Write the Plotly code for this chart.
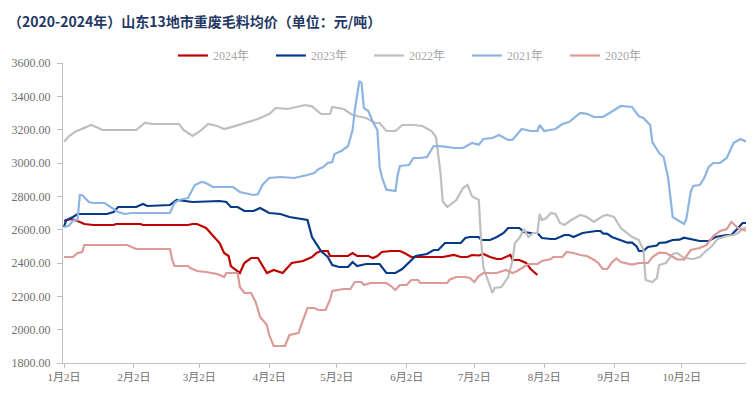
import pandas as pd
import plotly.graph_objects as go

# (day offset from Jan 2, price in 元/吨)
s2024 = [(0,2652),(3,2664),(6,2652),(9,2634),(13,2628),(22,2628),(23,2634),(34,2634),(35,2628),(55,2628),
         (57,2634),(59,2634),(63,2610),(66,2568),(69,2520),(71,2460),(73,2442),(74,2382),(76,2358),(78,2340),
         (80,2400),(83,2430),(86,2430),(88,2388),(90,2340),(93,2358),(97,2340),(101,2400),(106,2412),(110,2436),
         (112,2460),(114,2472),(117,2472),(118,2442),(126,2442),(128,2460),(130,2442),(135,2442),(137,2430),
         (139,2442),(141,2466),(145,2472),(149,2472),(151,2460),(154,2436),(164,2436),(168,2436),(173,2448),
         (176,2436),(179,2436),(181,2448),(184,2445),(186,2454),(189,2436),(192,2424),(194,2424),(198,2448),
         (199,2418),(202,2418),(205,2400),(207,2364),(210,2328)]

s2023 = [(0,2616),(1,2658),(4,2676),(6,2694),(19,2694),(22,2706),(24,2736),(32,2736),(35,2754),(37,2742),
         (47,2748),(50,2778),(57,2766),(63,2770),(69,2772),(72,2766),(74,2736),(77,2736),(80,2712),(84,2712),
         (87,2730),(91,2700),(96,2694),(100,2676),(106,2664),(108,2658),(110,2556),(114,2472),(117,2436),
         (119,2388),(122,2376),(126,2376),(128,2406),(130,2382),(134,2394),(140,2394),(143,2340),(147,2340),
         (150,2364),(153,2406),(156,2442),(161,2454),(164,2478),(166,2478),(169,2520),(176,2520),(178,2550),
         (180,2556),(184,2556),(185,2538),(189,2538),(192,2556),(195,2580),(197,2610),(202,2610),(204,2586),
         (207,2580),(210,2580),(212,2550),(216,2544),(218,2544),(222,2568),(224,2568),(226,2556),(228,2568),
         (230,2580),(236,2592),(238,2592),(239,2578),(241,2575),(243,2556),(247,2535),(250,2522),(252,2522),
         (254,2500),(255,2472),(257,2472),(259,2496),(261,2502),(263,2505),(264,2520),(267,2524),(270,2538),
         (273,2540),(275,2552),(278,2544),(282,2532),(286,2532),(289,2556),(294,2568),(296,2568),(298,2595),
         (301,2640),(303,2640)]

s2022 = [(0,3128),(2,3158),(5,3188),(8,3204),(12,3228),(15,3212),(17,3198),(32,3198),(36,3242),(39,3234),
         (51,3234),(53,3198),(57,3162),(60,3188),(64,3234),(68,3222),(71,3204),(75,3218),(79,3234),(86,3264),
         (91,3294),(94,3330),(99,3324),(105,3342),(107,3348),(110,3340),(114,3294),(118,3294),(119,3336),
         (124,3324),(128,3288),(134,3270),(138,3240),(140,3240),(143,3192),(147,3192),(150,3228),(155,3228),
         (159,3222),(163,3192),(165,3156),(167,2940),(168,2770),(170,2736),(174,2778),(177,2850),(179,2868),
         (181,2800),(184,2778),(185,2538),(186,2376),(190,2220),(191,2250),(194,2256),(197,2316),(199,2418),
         (200,2520),(202,2550),(204,2604),(205,2580),(206,2556),(208,2580),(210,2580),(211,2694),(212,2658),
         (214,2670),(216,2700),(218,2694),(220,2640),(222,2628),(225,2658),(229,2688),(232,2676),(235,2646),
         (239,2682),(241,2688),(244,2676),(247,2610),(250,2580),(252,2556),(255,2538),(257,2478),(258,2298),
         (261,2286),(263,2310),(264,2388),(267,2400),(270,2454),(272,2460),(275,2430),(279,2424),(282,2436),
         (285,2475),(287,2496),(290,2545),(294,2562),(297,2568),(299,2580),(301,2605),(303,2614)]

s2021 = [(0,2616),(2,2622),(4,2655),(6,2658),(7,2808),(8,2808),(11,2766),(13,2760),(18,2760),(20,2742),
         (24,2706),(27,2694),(30,2700),(47,2700),(49,2760),(51,2778),(55,2790),(58,2868),(61,2886),(63,2880),
         (66,2856),(75,2856),(78,2826),(84,2808),(86,2812),(88,2868),(91,2910),(96,2916),(102,2910),(108,2928),
         (111,2940),(113,2964),(115,2976),(117,3000),(119,3006),(120,3054),(123,3072),(126,3102),(128,3198),
         (129,3318),(130,3420),(131,3492),(132,3480),(133,3330),(135,3312),(137,3246),(139,3198),(140,2976),
         (141,2916),(143,2840),(147,2832),(148,2928),(149,2982),(153,2988),(155,3030),(158,3030),(161,3036),
         (164,3102),(168,3100),(173,3090),(177,3090),(181,3120),(184,3110),(186,3144),(190,3150),(193,3168),
         (197,3138),(199,3140),(203,3204),(207,3192),(210,3192),(211,3228),(213,3192),(218,3204),(221,3234),
         (224,3246),(229,3300),(232,3295),(235,3276),(239,3276),(242,3300),(244,3318),(247,3342),(252,3336),
         (255,3280),(257,3270),(260,3228),(261,3126),(264,3060),(266,3036),(268,2910),(270,2676),(272,2658),
         (275,2634),(276,2660),(278,2826),(279,2862),(282,2868),(284,2910),(286,2976),(288,3000),(291,3000),
         (294,3030),(297,3120),(300,3144),(303,3126)]

s2020 = [(0,2436),(4,2436),(6,2460),(8,2466),(9,2508),(28,2508),(30,2496),(32,2484),(47,2484),(48,2418),
         (49,2382),(55,2382),(56,2370),(59,2352),(63,2346),(68,2334),(71,2316),(72,2340),(77,2340),(78,2256),
         (80,2220),(83,2220),(85,2166),(87,2076),(90,2028),(91,1968),(93,1902),(98,1902),(100,1968),(104,1980),
         (106,2058),(108,2130),(111,2130),(113,2118),(116,2118),(118,2180),(119,2232),(124,2244),(127,2244),
         (129,2286),(132,2286),(133,2268),(136,2280),(143,2280),(145,2262),(147,2238),(149,2268),(152,2268),
         (154,2298),(157,2298),(158,2280),(170,2280),(171,2300),(174,2316),(178,2316),(180,2310),(182,2286),
         (184,2322),(186,2340),(192,2340),(196,2358),(199,2340),(201,2352),(204,2376),(206,2394),(210,2394),
         (212,2412),(216,2424),(217,2436),(221,2436),(223,2466),(226,2460),(229,2448),(232,2442),(235,2420),
         (237,2400),(239,2364),(241,2364),(243,2403),(245,2427),(247,2406),(250,2396),(252,2390),(255,2400),
         (259,2400),(261,2436),(264,2462),(267,2460),(270,2440),(272,2422),(275,2420),(278,2478),(282,2490),
         (285,2508),(288,2562),(291,2592),(294,2604),(296,2646),(298,2622),(299,2610),(303,2592)]

series_names = ["2024年", "2023年", "2022年", "2021年", "2020年"]
series_data = [s2024, s2023, s2022, s2021, s2020]
series_colors = ["#C00000", "#073B8A", "#BFBFBF", "#8DB4E2", "#DC9A98"]

tick_dates = ["2024-01-02", "2024-02-02", "2024-03-02", "2024-04-02", "2024-05-02",
              "2024-06-02", "2024-07-02", "2024-08-02", "2024-09-02", "2024-10-02"]
tick_labels = ["1月2日", "2月2日", "3月2日", "4月2日", "5月2日",
               "6月2日", "7月2日", "8月2日", "9月2日", "10月2日"]

base = pd.Timestamp("2024-01-02")

fig = go.Figure()
for name, data, color in zip(series_names, series_data, series_colors):
    days = [d for d, _ in data]
    vals = [v for _, v in data]
    xs = base + pd.to_timedelta(days, unit="D")
    fig.add_trace(go.Scatter(x=xs, y=vals, mode="lines", name=name,
                             line=dict(color=color, width=2.2)))

x0 = (base + pd.Timedelta(hours=-11)).strftime("%Y-%m-%d %H:%M:%S")
x1 = (base + pd.Timedelta(days=304.3)).strftime("%Y-%m-%d %H:%M:%S")

serif = "Liberation Serif, Noto Sans CJK SC, serif"
# the page body has an 8px default margin, so the figure is 8px smaller
fig.update_layout(
    width=746, height=385,
    margin=dict(l=55, r=4, t=55, b=30, autoexpand=False),
    paper_bgcolor="white", plot_bgcolor="white",
    title=dict(text="<b>（2020-2024年）山东13地市重废毛料均价（单位：元/吨）</b>",
               font=dict(family="Noto Sans CJK SC", size=14, color="#1F3864"),
               x=0, xanchor="left", xref="container",
               y=0.9636, yanchor="middle", yref="container", pad=dict(l=0)),
    legend=dict(orientation="h", x=0.160, xanchor="left", y=1.025, yanchor="middle",
                font=dict(family=serif, size=12, color="#A6A6A6"),
                entrywidth=53, entrywidthmode="pixels", itemwidth=30,
                bgcolor="rgba(0,0,0,0)"),
    showlegend=True,
)
fig.update_xaxes(type="date", range=[x0, x1], tickvals=tick_dates, ticktext=tick_labels,
                 showgrid=False, zeroline=False, showline=True, linecolor="#BFBFBF", linewidth=1,
                 ticks="outside", ticklen=4, tickcolor="#BFBFBF",
                 tickfont=dict(family=serif, size=11, color="#6F6F6F"))
fig.update_yaxes(range=[1800, 3600], dtick=200, tickformat=".2f",
                 showgrid=False, zeroline=False, showline=True, linecolor="#BFBFBF", linewidth=1,
                 ticks="outside", ticklen=5, tickcolor="#BFBFBF", ticklabelstandoff=4,
                 tickfont=dict(family=serif, size=12, color="#6F6F6F"))

fig.write_html("out.html")
